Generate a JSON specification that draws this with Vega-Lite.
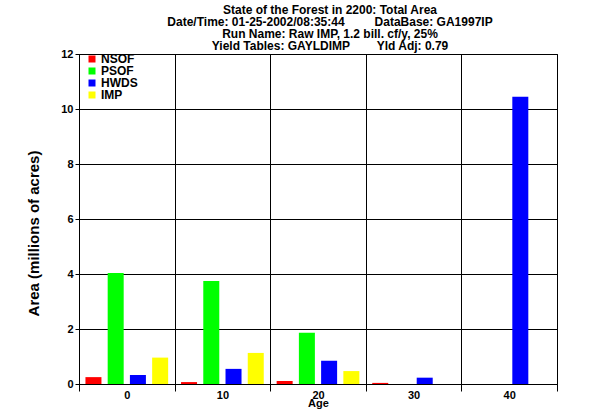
{
  "$schema": "https://vega.github.io/schema/vega-lite/v6.json",
  "width": 478,
  "height": 330,
  "autosize": {"type": "none"},
  "padding": {"left": 79, "top": 54, "right": 43, "bottom": 30},
  "background": "white",
  "title": {
    "text": [
      "State of the Forest in 2200: Total Area",
      "Date/Time: 01-25-2002/08:35:44\u00a0\u00a0\u00a0\u00a0\u00a0\u00a0\u00a0\u00a0\u00a0DataBase: GA1997IP",
      "Run Name: Raw IMP, 1.2 bill. cf/y, 25%",
      "Yield Tables: GAYLDIMP\u00a0\u00a0\u00a0\u00a0\u00a0\u00a0\u00a0\u00a0Yld Adj: 0.79"
    ],
    "font": "Liberation Sans",
    "fontSize": 12,
    "fontWeight": "bold",
    "lineHeight": 12,
    "color": "black",
    "anchor": "middle",
    "dx": 12,
    "offset": -5
  },
  "data": {
    "values": [
      {"age": 0, "type": "NSOF", "area": 0.25},
      {"age": 0, "type": "PSOF", "area": 4.04},
      {"age": 0, "type": "HWDS", "area": 0.33},
      {"age": 0, "type": "IMP", "area": 0.96},
      {"age": 10, "type": "NSOF", "area": 0.07},
      {"age": 10, "type": "PSOF", "area": 3.75},
      {"age": 10, "type": "HWDS", "area": 0.55},
      {"age": 10, "type": "IMP", "area": 1.13},
      {"age": 20, "type": "NSOF", "area": 0.11},
      {"age": 20, "type": "PSOF", "area": 1.86},
      {"age": 20, "type": "HWDS", "area": 0.85},
      {"age": 20, "type": "IMP", "area": 0.47},
      {"age": 30, "type": "NSOF", "area": 0.04},
      {"age": 30, "type": "HWDS", "area": 0.23},
      {"age": 40, "type": "HWDS", "area": 10.45}
    ]
  },
  "mark": {"type": "bar"},
  "encoding": {
    "x": {
      "field": "age",
      "type": "ordinal",
      "scale": {"paddingInner": 0, "paddingOuter": 0},
      "axis": {
        "title": "Age",
        "labelAngle": 0,
        "tickBand": "extent",
        "grid": true,
        "gridColor": "black",
        "gridOpacity": 1,
        "gridWidth": 1,
        "domainColor": "black",
        "domainWidth": 1,
        "tickColor": "black",
        "tickSize": 7,
        "tickWidth": 1,
        "labelFont": "Liberation Sans",
        "labelFontSize": 11,
        "labelFontWeight": "bold",
        "labelColor": "black",
        "labelPadding": -2,
        "titleFont": "Liberation Sans",
        "titleFontSize": 11,
        "titleFontWeight": "bold",
        "titleColor": "black",
        "titlePadding": -3
      }
    },
    "xOffset": {
      "field": "type",
      "type": "nominal",
      "sort": ["NSOF", "PSOF", "HWDS", "IMP"],
      "scale": {"domain": ["NSOF", "PSOF", "HWDS", "IMP"], "paddingInner": 0.28, "paddingOuter": 0.29}
    },
    "y": {
      "field": "area",
      "type": "quantitative",
      "scale": {"domain": [0, 12], "nice": false},
      "axis": {
        "title": "Area (millions of acres)",
        "values": [0, 2, 4, 6, 8, 10, 12],
        "grid": true,
        "gridColor": "black",
        "gridOpacity": 1,
        "gridWidth": 1,
        "domainColor": "black",
        "tickColor": "black",
        "tickSize": 4,
        "labelFont": "Liberation Sans",
        "labelFontSize": 11,
        "labelFontWeight": "bold",
        "labelColor": "black",
        "labelPadding": 2,
        "titleFont": "Liberation Sans",
        "titleFontSize": 15,
        "titleFontWeight": "bold",
        "titleColor": "black",
        "titleBaseline": "middle",
        "titleX": -46,
        "titleY": 179
      }
    },
    "color": {
      "field": "type",
      "type": "nominal",
      "sort": ["NSOF", "PSOF", "HWDS", "IMP"],
      "scale": {"domain": ["NSOF", "PSOF", "HWDS", "IMP"], "range": ["#ff0000", "#00ff00", "#0000ff", "#ffff00"]},
      "legend": {
        "title": null,
        "orient": "none",
        "legendX": 7,
        "legendY": -1,
        "symbolType": "square",
        "symbolSize": 49,
        "symbolStrokeWidth": 0,
        "symbolOpacity": 1,
        "labelFont": "Liberation Sans",
        "labelFontSize": 12,
        "labelFontWeight": "bold",
        "labelColor": "black",
        "labelOffset": 3,
        "rowPadding": -2,
        "padding": 0
      }
    }
  },
  "config": {
    "view": {"stroke": "black", "strokeWidth": 1}
  }
}
